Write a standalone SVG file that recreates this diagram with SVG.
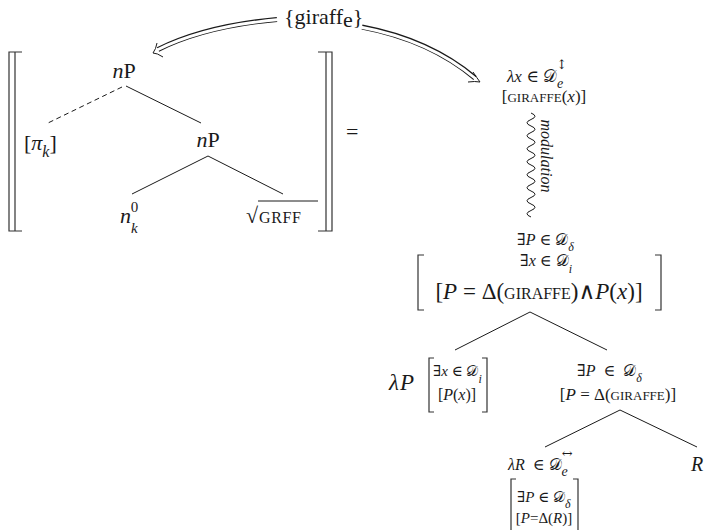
<svg xmlns="http://www.w3.org/2000/svg" width="705" height="530" viewBox="0 0 705 530">
<style>
text{font-family:"Liberation Serif","DejaVu Serif",serif;fill:#1a1a1a}
.it{font-style:italic}
.ln{stroke:#1a1a1a;stroke-width:1;fill:none}
.br{stroke:#333;stroke-width:1.2;fill:none}
.dbl{stroke:#1a1a1a;stroke-width:5;fill:none}
.dblw{stroke:#fff;stroke-width:2.8;fill:none}
.sym{font-family:"DejaVu Serif","Liberation Serif",serif}
</style>
<rect width="705" height="530" fill="#fff"/>

<g id="label-giraffe">
<text x="284" y="24" font-size="22">{giraff<tspan dy="3">e</tspan><tspan dy="-3">}</tspan></text>
</g>

<g id="connectors">
<path class="dbl" d="M277,19.5 Q205,26 158,49.5"/>
<path class="dblw" d="M279,19.5 Q205,26 157,50"/>
<path class="ln" d="M163,57 Q157,53 153,53 Q156,49 157,43"/>
<path class="dbl" d="M362,27 Q430,40 475,78"/>
<path class="dblw" d="M360,27 Q430,40 476,79"/>
<path class="ln" d="M473,72 Q477,78 480,82 Q475,81 468,82"/>
<line class="ln" x1="122" y1="87" x2="48" y2="123" stroke-dasharray="5,3.5"/>
<line class="ln" x1="126" y1="86" x2="201" y2="123"/>
<line class="ln" x1="208" y1="156" x2="132" y2="194"/>
<line class="ln" x1="208" y1="156" x2="283" y2="194"/>
<path class="ln" d="M531,113 q8,3.25 0,6.5 q-8,3.25 0,6.5 q8,3.25 0,6.5 q-8,3.25 0,6.5 q8,3.25 0,6.5 q-8,3.25 0,6.5 q8,3.25 0,6.5 q-8,3.25 0,6.5 q8,3.25 0,6.5 q-8,3.25 0,6.5 q8,3.25 0,6.5 q-8,3.25 0,6.5 q8,3.25 0,6.5 q-8,3.25 0,6.5 q8,3.25 0,6.5 q-8,3.25 0,6.5"/>
<line class="ln" x1="530" y1="312" x2="455" y2="350"/>
<line class="ln" x1="530" y1="312" x2="607" y2="350"/>
<line class="ln" x1="620" y1="410" x2="545" y2="447"/>
<line class="ln" x1="620" y1="410" x2="697" y2="447"/>
</g>

<g id="left-brackets">
<path class="br" d="M22,52 H9 V231 H22 M15,52 V231"/>
<path class="br" d="M318,52 H332 V231 H318 M326,52 V231"/>
<text x="346" y="139" font-size="22">=</text>
</g>

<g id="node-nP-top">
<text x="124" y="78" font-size="22" text-anchor="middle"><tspan class="it">n</tspan>P</text>
</g>
<g id="node-pi">
<text x="24" y="150" font-size="22">[<tspan class="it">π</tspan><tspan class="it" font-size="16" dy="7">k</tspan><tspan dy="-7">]</tspan></text>
</g>
<g id="node-nP-mid">
<text x="208" y="147" font-size="22" text-anchor="middle"><tspan class="it">n</tspan>P</text>
</g>
<g id="node-n0">
<text x="120" y="223" font-size="22" class="it">n<tspan class="it" font-size="15" dy="10">k</tspan><tspan font-style="normal" font-size="15" dx="-7" dy="-21">0</tspan></text>
</g>
<g id="node-root">
<text x="246" y="223" font-size="22">√<tspan font-size="16" letter-spacing="0.6" dx="1">GRFF</tspan></text>
<line class="ln" x1="258" y1="201" x2="318" y2="201"/>
</g>

<g id="node-lambda-x">
<text x="507" y="82" font-size="17"><tspan class="it">λx</tspan> ∈ 𝒟<tspan class="it" font-size="14" dy="6">e</tspan><tspan class="sym" font-size="13" dx="-7" dy="-19">↕</tspan></text>
<text x="544" y="102" font-size="17" text-anchor="middle">[<tspan font-size="13">GIRAFFE</tspan>(<tspan class="it">x</tspan>)]</text>
<text transform="translate(541,156) rotate(90)" font-size="16" class="it" text-anchor="middle">modulation</text>
</g>

<g id="node-exists">
<text x="517" y="245" font-size="16">∃<tspan class="it">P</tspan> ∈ 𝒟<tspan class="it" font-size="12" dy="6">δ</tspan></text>
<text x="520" y="266" font-size="16">∃<tspan class="it">x</tspan> ∈ 𝒟<tspan class="it" font-size="12" dy="7">i</tspan></text>
<path class="br" d="M424,255 H418 V310 H424 M655,255 H661 V310 H655"/>
<text x="539" y="299" font-size="23" text-anchor="middle">[<tspan class="it">P</tspan> = Δ(<tspan font-size="16">GIRAFFE</tspan>)∧<tspan class="it">P</tspan>(<tspan class="it">x</tspan>)]</text>
</g>

<g id="node-lambda-P">
<text x="389" y="390" font-size="23" class="it" letter-spacing="1">λP</text>
<path class="br" d="M434,358 H429 V412 H434 M482,358 H487 V412 H482"/>
<text x="433" y="376" font-size="15">∃<tspan class="it">x</tspan> ∈ 𝒟<tspan class="it" font-size="12" dy="7">i</tspan></text>
<text x="457" y="400" font-size="16" text-anchor="middle">[<tspan class="it">P</tspan>(<tspan class="it">x</tspan>)]</text>
</g>

<g id="node-exists-P">
<text x="577" y="376" font-size="16" xml:space="preserve">∃<tspan class="it">P</tspan>  ∈  𝒟<tspan class="it" font-size="12" dy="6">δ</tspan></text>
<text x="618" y="400" font-size="17" text-anchor="middle">[<tspan class="it">P</tspan> = Δ(<tspan font-size="13">GIRAFFE</tspan>)]</text>
</g>

<g id="node-lambda-R">
<text x="508" y="470" font-size="16" xml:space="preserve"><tspan class="it">λR</tspan>  ∈ 𝒟<tspan class="it" font-size="14" dy="6">e</tspan><tspan class="sym" font-size="13" dx="-6" dy="-18">↔</tspan></text>
<path class="br" d="M516,479 H511 V535 H516 M573,479 H578 V535 H573"/>
<text x="517" y="502" font-size="15">∃<tspan class="it">P</tspan> ∈ 𝒟<tspan class="it" font-size="12" dy="6">δ</tspan></text>
<text x="544" y="523" font-size="15" text-anchor="middle">[<tspan class="it">P</tspan>=Δ(<tspan class="it">R</tspan>)]</text>
</g>

<g id="node-R">
<text x="691" y="471" font-size="20" class="it">R</text>
</g>
</svg>
